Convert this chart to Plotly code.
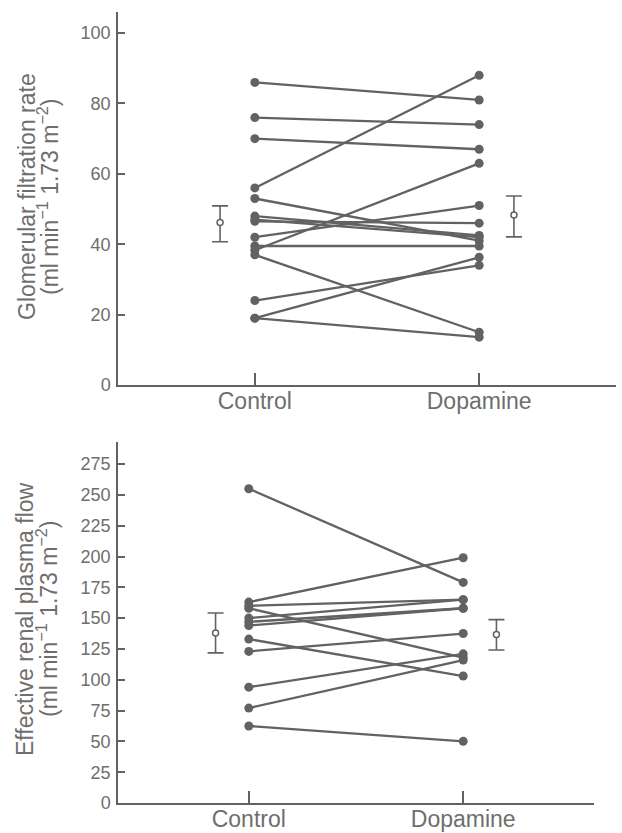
import plotly.graph_objects as go

# ---------------- data ----------------
groups = ["Control", "Dopamine"]

# Glomerular filtration rate (ml min-1 1.73 m-2), one pair per patient
gfr_control = [86, 76, 70, 56, 53, 48, 47, 46.5, 42, 39.5, 38.3, 37, 24, 19, 19]
gfr_dopamine = [81, 74, 67, 88, 41, 42.5, 42, 46, 51, 39.5, 63, 15, 34, 36.3, 13.6]
gfr_mean = [46.2, 48.3]
gfr_err_plus = [4.7, 5.4]
gfr_err_minus = [5.5, 6.2]

# Effective renal plasma flow (ml min-1 1.73 m-2)
erpf_control = [255, 163, 160, 158, 150, 147, 144, 133, 123, 94, 77, 62.5]
erpf_dopamine = [179, 199, 165, 118, 165, 158, 158, 103, 137.5, 121, 116, 50]
erpf_mean = [138, 136.7]
erpf_err_plus = [16.2, 12.1]
erpf_err_minus = [16.2, 12.6]

gfr_ticks = [0, 20, 40, 60, 80, 100]
erpf_ticks = [0, 25, 50, 75, 100, 125, 150, 175, 200, 225, 250, 275]

gfr_title = ["Glomerular filtration rate",
             "(ml min<sup>\u22121</sup> 1.73 m<sup>\u22122</sup>)"]
erpf_title = ["Effective renal plasma flow",
              "(ml min<sup>\u22121</sup> 1.73 m<sup>\u22122</sup>)"]

# ---------------- style ----------------
GREY = "#626262"
TXT = "#6e6e6e"
FONT = "Liberation Sans, Arial, sans-serif"
W, H = 622, 833
xpos = list(range(len(groups)))
mean_offset = 0.155

fig = go.Figure()


def add_panel(ctrl, dop, mean, ep, em, xa, ya):
    for c, d in zip(ctrl, dop):
        fig.add_trace(go.Scatter(
            x=xpos, y=[c, d], mode="lines+markers",
            line=dict(color=GREY, width=2.3),
            marker=dict(color=GREY, size=9),
            xaxis=xa, yaxis=ya, showlegend=False, hoverinfo="skip"))
    fig.add_trace(go.Scatter(
        x=[xpos[0] - mean_offset, xpos[1] + mean_offset], y=mean,
        mode="markers",
        marker=dict(color="white", size=6, line=dict(color=GREY, width=1.5)),
        error_y=dict(type="data", symmetric=False, array=ep, arrayminus=em,
                     color=GREY, thickness=1.6, width=8),
        xaxis=xa, yaxis=ya, showlegend=False, hoverinfo="skip"))


add_panel(gfr_control, gfr_dopamine, gfr_mean, gfr_err_plus, gfr_err_minus, "x", "y")
add_panel(erpf_control, erpf_dopamine, erpf_mean, erpf_err_plus, erpf_err_minus, "x2", "y2")

common_x = dict(
    range=[-0.61, 1.61], tickvals=xpos, ticktext=groups, automargin=False,
    showline=True, linecolor=GREY, linewidth=1.5, showgrid=False, zeroline=False,
    ticks="inside", ticklen=12, tickwidth=1.5, tickcolor=GREY,
    ticklabelstandoff=-5,
    tickfont=dict(family=FONT, size=23, color=TXT),
)
common_y = dict(
    showline=True, linecolor=GREY, linewidth=1.5, showgrid=False, zeroline=False,
    ticks="inside", ticklen=7, tickwidth=1.5, tickcolor=GREY, automargin=False,
    ticklabelstandoff=2,
    tickfont=dict(family=FONT, size=18, color=TXT),
)

annotations = []
for title, xs, yc in ((gfr_title, (27, 48), 197), (erpf_title, (25, 47), 619)):
    for line, xc in zip(title, xs):
        annotations.append(dict(
            text=line, xref="paper", yref="paper", x=xc / W, y=1 - yc / H,
            textangle=-90, showarrow=False, xanchor="center", yanchor="middle",
            font=dict(family=FONT, size=23, color=TXT)))

fig.update_layout(
    width=W, height=H,
    margin=dict(l=0, r=0, t=0, b=0),
    paper_bgcolor="white", plot_bgcolor="white",
    xaxis=dict(domain=[118 / W, 616 / W], anchor="y", **common_x),
    yaxis=dict(domain=[1 - 385 / H, 1 - 12 / H], anchor="x",
               range=[0, 106], tickvals=gfr_ticks, **common_y),
    xaxis2=dict(domain=[118 / W, 594 / W], anchor="y2", **common_x),
    yaxis2=dict(domain=[1 - 803 / H, 1 - 442 / H], anchor="x2",
                range=[0, 292.9], tickvals=erpf_ticks, **common_y),
    annotations=annotations,
)

fig.write_html("out.html",
               config={"displayModeBar": False},
               post_script="document.body.style.margin='0';")
